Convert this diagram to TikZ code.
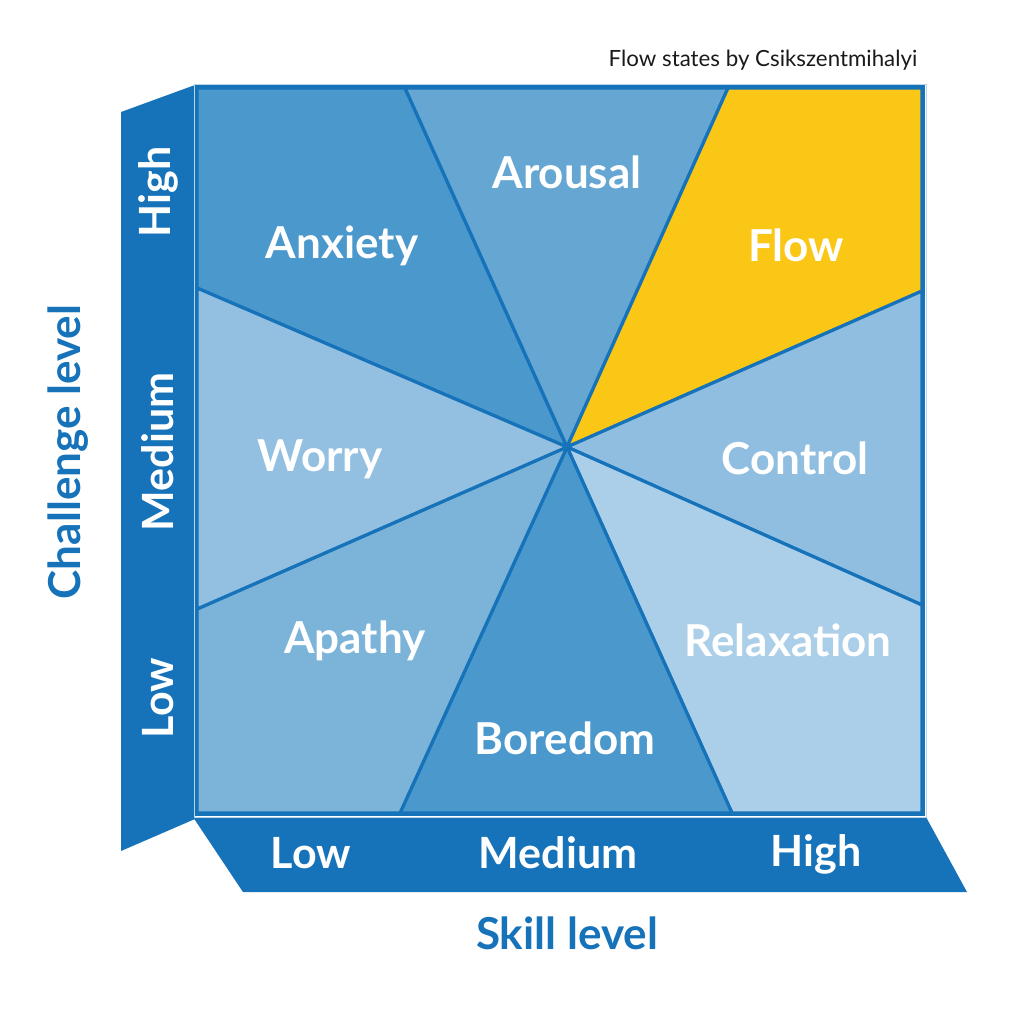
\documentclass[tikz,border=0pt]{standalone}
\usepackage{fontspec}
\setmainfont{Lato}
\definecolor{frameblue}{HTML}{1673BA}
\definecolor{cAnx}{HTML}{4A98CC}
\definecolor{cAro}{HTML}{65A6D2}
\definecolor{cFlow}{HTML}{FBC716}
\definecolor{cWor}{HTML}{93C0E1}
\definecolor{cCon}{HTML}{90BEE0}
\definecolor{cApa}{HTML}{7BB3D9}
\definecolor{cBor}{HTML}{4A98CC}
\definecolor{cRel}{HTML}{ABCEE9}
\definecolor{titletext}{HTML}{1A1A1A}
\begin{document}
\begin{tikzpicture}[x=1pt,y=-1pt,
  sector/.style={draw=frameblue,line width=3.2pt,line join=round},
  state/.style={text=white,font=\fontsize{44}{48}\selectfont\bfseries,inner sep=0pt},
  axlabel/.style={text=white,font=\fontsize{43}{48}\selectfont\bfseries,inner sep=0pt},
  axtitle/.style={text=frameblue,font=\fontsize{44}{48}\selectfont\bfseries,inner sep=0pt}]
\useasboundingbox (0,0) rectangle (1024,1019);
% side panels
\fill[frameblue] (121,112) -- (195,85) -- (195,819) -- (121,851) -- cycle;
\fill[frameblue] (193,817) -- (926,817) -- (967,892) -- (243,892) -- cycle;
% points
\coordinate (C) at (567,447);
\coordinate (TL) at (197,88);
\coordinate (TR) at (922,88);
\coordinate (BR) at (922,813);
\coordinate (BL) at (197,813);
\coordinate (t1) at (405,88);
\coordinate (t2) at (728,88);
\coordinate (r1) at (922,291);
\coordinate (r2) at (922,605);
\coordinate (b1) at (732,813);
\coordinate (b2) at (400,813);
\coordinate (l1) at (197,609);
\coordinate (l2) at (197,288);
% sectors
\filldraw[sector,fill=cAnx] (C) -- (l2) -- (TL) -- (t1) -- cycle;
\filldraw[sector,fill=cAro] (C) -- (t1) -- (t2) -- cycle;
\filldraw[sector,fill=cFlow] (C) -- (t2) -- (TR) -- (r1) -- cycle;
\filldraw[sector,fill=cCon] (C) -- (r1) -- (r2) -- cycle;
\filldraw[sector,fill=cRel] (C) -- (r2) -- (BR) -- (b1) -- cycle;
\filldraw[sector,fill=cBor] (C) -- (b1) -- (b2) -- cycle;
\filldraw[sector,fill=cApa] (C) -- (b2) -- (BL) -- (l1) -- cycle;
\filldraw[sector,fill=cWor] (C) -- (l1) -- (l2) -- cycle;
% frame
\draw[white!70!frameblue,line width=0.8pt] (194.5,84) rectangle (926.5,817.5);
\draw[frameblue,line width=3.2pt] (196.5,86.5) rectangle (923.5,814.5);
% state labels
\node[state] (anx) at (342,246) {Anxiety};
\node[state] (aro) at (567,172) {Arousal};
\node[state] (flow) at (796,245) {Flow};
\node[state] (wor) at (320,459) {Worry};
\node[state] (con) at (795,458) {Control};
\node[state] (apa) at (355,641) {Apathy};
\node[state] (rel) at (788,640) {Relaxation};
\node[state] (bor) at (565,738) {Boredom};
% axis labels
\node[axlabel,rotate=90] (yh) at (158,192) {High};
\node[axlabel,rotate=90] (ym) at (158,452) {Medium};
\node[axlabel,rotate=90] (yl) at (158,698) {Low};
\node[axlabel] (xl) at (311,853) {Low};
\node[axlabel] (xm) at (558,853) {Medium};
\node[axlabel] (xh) at (816,854) {High};
\node[axtitle,rotate=90] (ytitle) at (68,452) {Challenge level};
\node[axtitle] (xtitle) at (567,933) {Skill level};
\node[inner sep=0pt,text=titletext,font=\fontsize{22.3}{26}\selectfont] (title) at (763,60) {Flow states by Csikszentmihalyi};
\end{tikzpicture}
\end{document}
